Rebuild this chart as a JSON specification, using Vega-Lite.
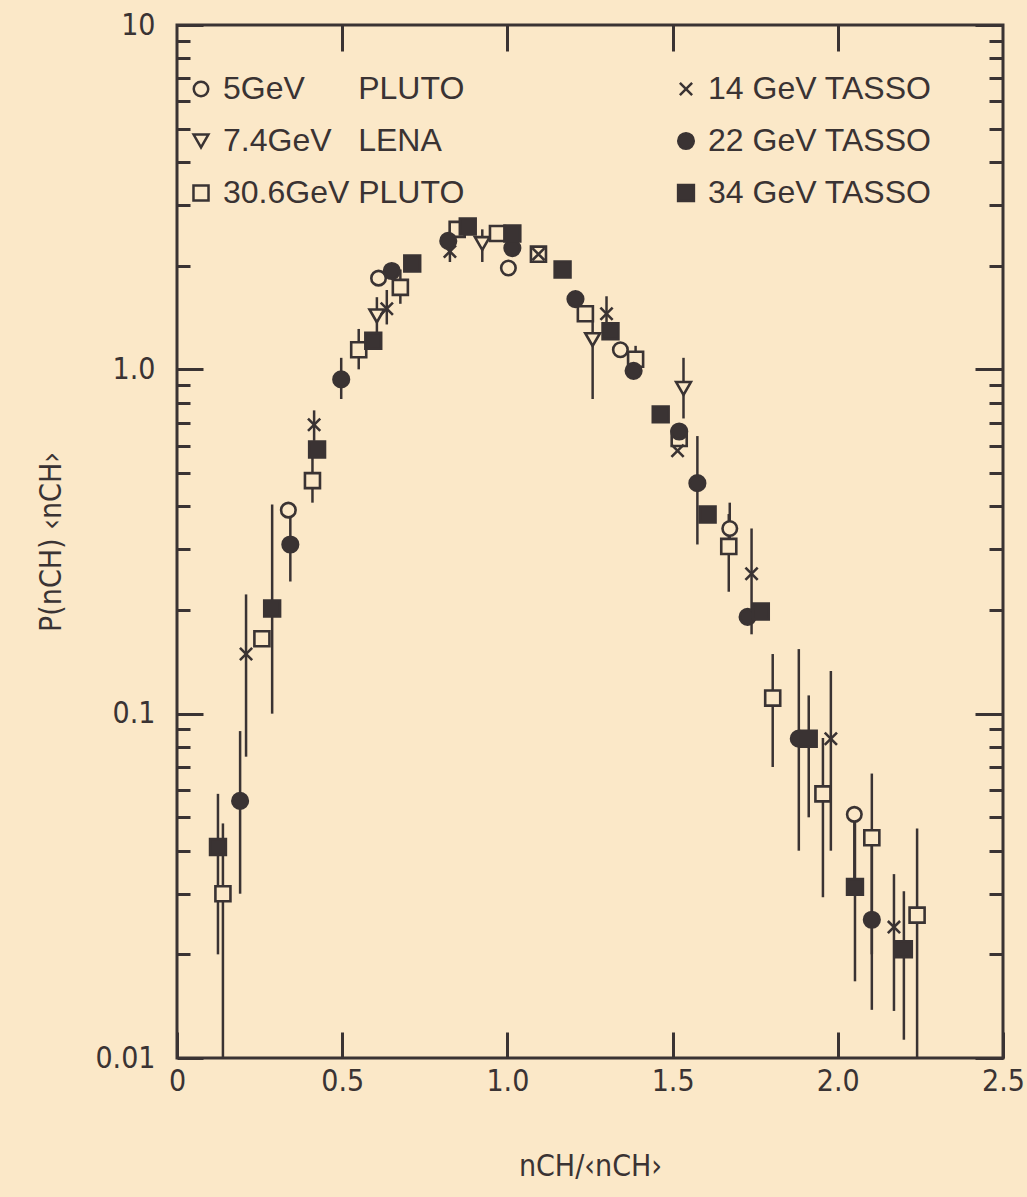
{
  "$schema": "https://vega.github.io/schema/vega-lite/v6.json",
  "width": 826,
  "height": 1033,
  "autosize": "none",
  "padding": {"left": 177, "top": 25, "right": 24, "bottom": 139},
  "background": "#fbe8c8",
  "config": {
    "view": {"stroke": "#3a3333", "strokeWidth": 3, "fill": "#fbe8c8"},
    "font": "Liberation Sans",
    "axis": {
      "domain": false,
      "grid": false,
      "tickColor": "#3a3333",
      "tickWidth": 3,
      "labelColor": "#3a3333",
      "titleColor": "#3a3333",
      "labelFont": "Liberation Sans Narrow, DejaVu Sans Condensed, Liberation Sans",
      "titleFont": "Liberation Sans Narrow, DejaVu Sans Condensed, Liberation Sans",
      "labelFontSize": 30,
      "titleFontSize": 30,
      "titleFontWeight": "normal"
    }
  },
  "data": {
    "values": [
      {"s": "P5", "x": 0.337, "v": 0.39},
      {"s": "P5", "x": 0.61, "v": 1.84},
      {"s": "P5", "x": 1.003, "v": 1.97},
      {"s": "P5", "x": 1.342, "v": 1.14},
      {"s": "P5", "x": 1.673, "v": 0.345, "lo": 0.30, "hi": 0.41},
      {"s": "P5", "x": 2.05, "v": 0.051, "lo": 0.032, "hi": 0.051},
      {"s": "L7", "x": 0.605, "v": 1.43, "lo": 1.28, "hi": 1.62},
      {"s": "L7", "x": 0.924, "v": 2.32, "lo": 2.05, "hi": 2.55},
      {"s": "L7", "x": 1.258, "v": 1.22, "lo": 0.82, "hi": 1.45},
      {"s": "L7", "x": 1.533, "v": 0.88, "lo": 0.72, "hi": 1.08},
      {"s": "P30", "x": 0.139, "v": 0.030, "lo": 0.01, "hi": 0.048},
      {"s": "P30", "x": 0.257, "v": 0.165},
      {"s": "P30", "x": 0.41, "v": 0.475, "lo": 0.41, "hi": 0.56},
      {"s": "P30", "x": 0.55, "v": 1.14, "lo": 1.0, "hi": 1.31},
      {"s": "P30", "x": 0.676, "v": 1.73, "lo": 1.55, "hi": 1.95},
      {"s": "P30", "x": 0.848, "v": 2.55},
      {"s": "P30", "x": 0.97, "v": 2.48},
      {"s": "P30", "x": 1.094, "v": 2.16},
      {"s": "P30", "x": 1.236, "v": 1.45},
      {"s": "P30", "x": 1.388, "v": 1.07, "lo": 1.0, "hi": 1.17},
      {"s": "P30", "x": 1.52, "v": 0.63},
      {"s": "P30", "x": 1.67, "v": 0.306, "lo": 0.226, "hi": 0.38},
      {"s": "P30", "x": 1.803, "v": 0.111, "lo": 0.07, "hi": 0.149},
      {"s": "P30", "x": 1.955, "v": 0.0585, "lo": 0.0293, "hi": 0.085},
      {"s": "P30", "x": 2.103, "v": 0.0436, "lo": 0.02, "hi": 0.067},
      {"s": "P30", "x": 2.24, "v": 0.026, "lo": 0.01, "hi": 0.0464},
      {"s": "T14", "x": 0.209, "v": 0.149, "lo": 0.075, "hi": 0.222},
      {"s": "T14", "x": 0.415, "v": 0.69, "lo": 0.62, "hi": 0.76},
      {"s": "T14", "x": 0.635, "v": 1.5, "lo": 1.35, "hi": 1.7},
      {"s": "T14", "x": 0.826, "v": 2.2, "lo": 2.05, "hi": 2.35},
      {"s": "T14", "x": 1.094, "v": 2.16},
      {"s": "T14", "x": 1.30, "v": 1.45, "lo": 1.3, "hi": 1.63},
      {"s": "T14", "x": 1.515, "v": 0.58},
      {"s": "T14", "x": 1.739, "v": 0.255, "lo": 0.17, "hi": 0.345},
      {"s": "T14", "x": 1.979, "v": 0.0846, "lo": 0.04, "hi": 0.133},
      {"s": "T14", "x": 2.17, "v": 0.024, "lo": 0.0137, "hi": 0.0342},
      {"s": "T22", "x": 0.191, "v": 0.0558, "lo": 0.03, "hi": 0.089},
      {"s": "T22", "x": 0.343, "v": 0.31, "lo": 0.242, "hi": 0.39},
      {"s": "T22", "x": 0.497, "v": 0.935, "lo": 0.82, "hi": 1.08},
      {"s": "T22", "x": 0.65, "v": 1.93},
      {"s": "T22", "x": 0.821, "v": 2.36},
      {"s": "T22", "x": 1.015, "v": 2.25},
      {"s": "T22", "x": 1.206, "v": 1.6},
      {"s": "T22", "x": 1.382, "v": 0.99},
      {"s": "T22", "x": 1.52, "v": 0.66},
      {"s": "T22", "x": 1.575, "v": 0.467, "lo": 0.31, "hi": 0.64},
      {"s": "T22", "x": 1.727, "v": 0.191},
      {"s": "T22", "x": 1.882, "v": 0.0846, "lo": 0.04, "hi": 0.154},
      {"s": "T22", "x": 2.103, "v": 0.0252, "lo": 0.0138, "hi": 0.0436},
      {"s": "T34", "x": 0.124, "v": 0.041, "lo": 0.02, "hi": 0.0585},
      {"s": "T34", "x": 0.288, "v": 0.202, "lo": 0.1, "hi": 0.405},
      {"s": "T34", "x": 0.424, "v": 0.585},
      {"s": "T34", "x": 0.594, "v": 1.21},
      {"s": "T34", "x": 0.712, "v": 2.03},
      {"s": "T34", "x": 0.88, "v": 2.6},
      {"s": "T34", "x": 1.015, "v": 2.48},
      {"s": "T34", "x": 1.167, "v": 1.95},
      {"s": "T34", "x": 1.312, "v": 1.29},
      {"s": "T34", "x": 1.464, "v": 0.74},
      {"s": "T34", "x": 1.606, "v": 0.379},
      {"s": "T34", "x": 1.767, "v": 0.198},
      {"s": "T34", "x": 1.912, "v": 0.0846, "lo": 0.05, "hi": 0.113},
      {"s": "T34", "x": 2.052, "v": 0.0314, "lo": 0.0167, "hi": 0.051},
      {"s": "T34", "x": 2.2, "v": 0.0207, "lo": 0.0113, "hi": 0.0305}
    ]
  },
  "layer": [
    {
      "transform": [{"filter": "isValid(datum.lo)"}],
      "mark": {"type": "rule", "color": "#3a3333", "strokeWidth": 2.5},
      "encoding": {
        "x": {
          "field": "x", "type": "quantitative",
          "scale": {"domain": [0, 2.5], "nice": false, "zero": false},
          "axis": {
            "orient": "bottom",
            "values": [0, 0.5, 1, 1.5, 2, 2.5],
            "tickSize": -26,
            "labelPadding": 34,
            "labelFlush": false,
            "labelExpr": "datum.value == 0 ? '0' : format(datum.value, '.1f')",
            "title": "nCH/‹nCH›",
            "titlePadding": 55
          }
        },
        "y": {
          "field": "lo", "type": "quantitative",
          "scale": {"type": "log", "domain": [0.01, 10], "nice": false},
          "axis": {
            "orient": "left",
            "values": [0.01, 0.02, 0.03, 0.04, 0.05, 0.06, 0.07, 0.08, 0.09, 0.1, 0.2, 0.3, 0.4, 0.5, 0.6, 0.7, 0.8, 0.9, 1, 2, 3, 4, 5, 6, 7, 8, 9, 10],
            "tickSize": {"condition": {"test": "datum.value == 0.01 || datum.value == 0.1 || datum.value == 1 || datum.value == 10", "value": -26}, "value": -13},
            "labelPadding": 48,
            "labelExpr": "datum.value == 10 ? '10' : datum.value == 1 ? '1.0' : datum.value == 0.1 ? '0.1' : datum.value == 0.01 ? '0.01' : ''",
            "title": "P(nCH) ‹nCH›",
            "titlePadding": 28
          }
        },
        "y2": {"field": "hi"}
      }
    },
    {
      "mark": {"type": "point", "filled": true, "stroke": "#3a3333", "strokeWidth": 2.6, "opacity": 1},
      "encoding": {
        "x": {
          "field": "x", "type": "quantitative",
          "axis": {"orient": "top", "values": [0.5, 1, 1.5, 2], "tickSize": -26, "labels": false, "title": null}
        },
        "y": {
          "field": "v", "type": "quantitative",
          "axis": {
            "orient": "right",
            "values": [0.01, 0.02, 0.03, 0.04, 0.05, 0.06, 0.07, 0.08, 0.09, 0.1, 0.2, 0.3, 0.4, 0.5, 0.6, 0.7, 0.8, 0.9, 1, 2, 3, 4, 5, 6, 7, 8, 9, 10],
            "tickSize": {"condition": {"test": "datum.value == 0.01 || datum.value == 0.1 || datum.value == 1 || datum.value == 10", "value": -28}, "value": -14},
            "labels": false,
            "title": null
          }
        },
        "shape": {
          "field": "s", "type": "nominal",
          "scale": {
            "domain": ["P5", "L7", "P30", "T14", "T22", "T34"],
            "range": ["circle", "triangle-down", "square", "M-0.8,-0.8L0.8,0.8M-0.8,0.8L0.8,-0.8", "circle", "square"]
          },
          "legend": {
            "orient": "none",
            "legendX": 8,
            "legendY": 48,
            "columns": 2,
            "columnPadding": 205,
            "rowPadding": 20,
            "title": null,
            "labelFont": "Liberation Sans",
            "labelFontSize": 32,
            "labelColor": "#3a3333",
            "labelLimit": 500,
            "labelOffset": 6,
            "symbolStrokeColor": "#3a3333",
            "symbolStrokeWidth": 2.5,
            "labelExpr": "datum.value == 'P5' ? '5GeV\u00a0\u00a0\u00a0\u00a0\u00a0\u00a0PLUTO' : datum.value == 'L7' ? '7.4GeV\u00a0\u00a0\u00a0LENA' : datum.value == 'P30' ? '30.6GeV PLUTO' : datum.value == 'T14' ? '14 GeV TASSO' : datum.value == 'T22' ? '22 GeV TASSO' : '34 GeV TASSO'"
          }
        },
        "fill": {
          "field": "s", "type": "nominal",
          "scale": {
            "domain": ["P5", "L7", "P30", "T14", "T22", "T34"],
            "range": ["#fbe8c8", "#fbe8c8", "#fbe8c8", "transparent", "#3a3333", "#3a3333"]
          }
        },
        "size": {
          "field": "s", "type": "nominal",
          "scale": {
            "domain": ["P5", "L7", "P30", "T14", "T22", "T34"],
            "range": [210, 250, 320, 220, 270, 260]
          }
        }
      }
    }
  ],
  "resolve": {"axis": {"x": "independent", "y": "independent"}}
}
